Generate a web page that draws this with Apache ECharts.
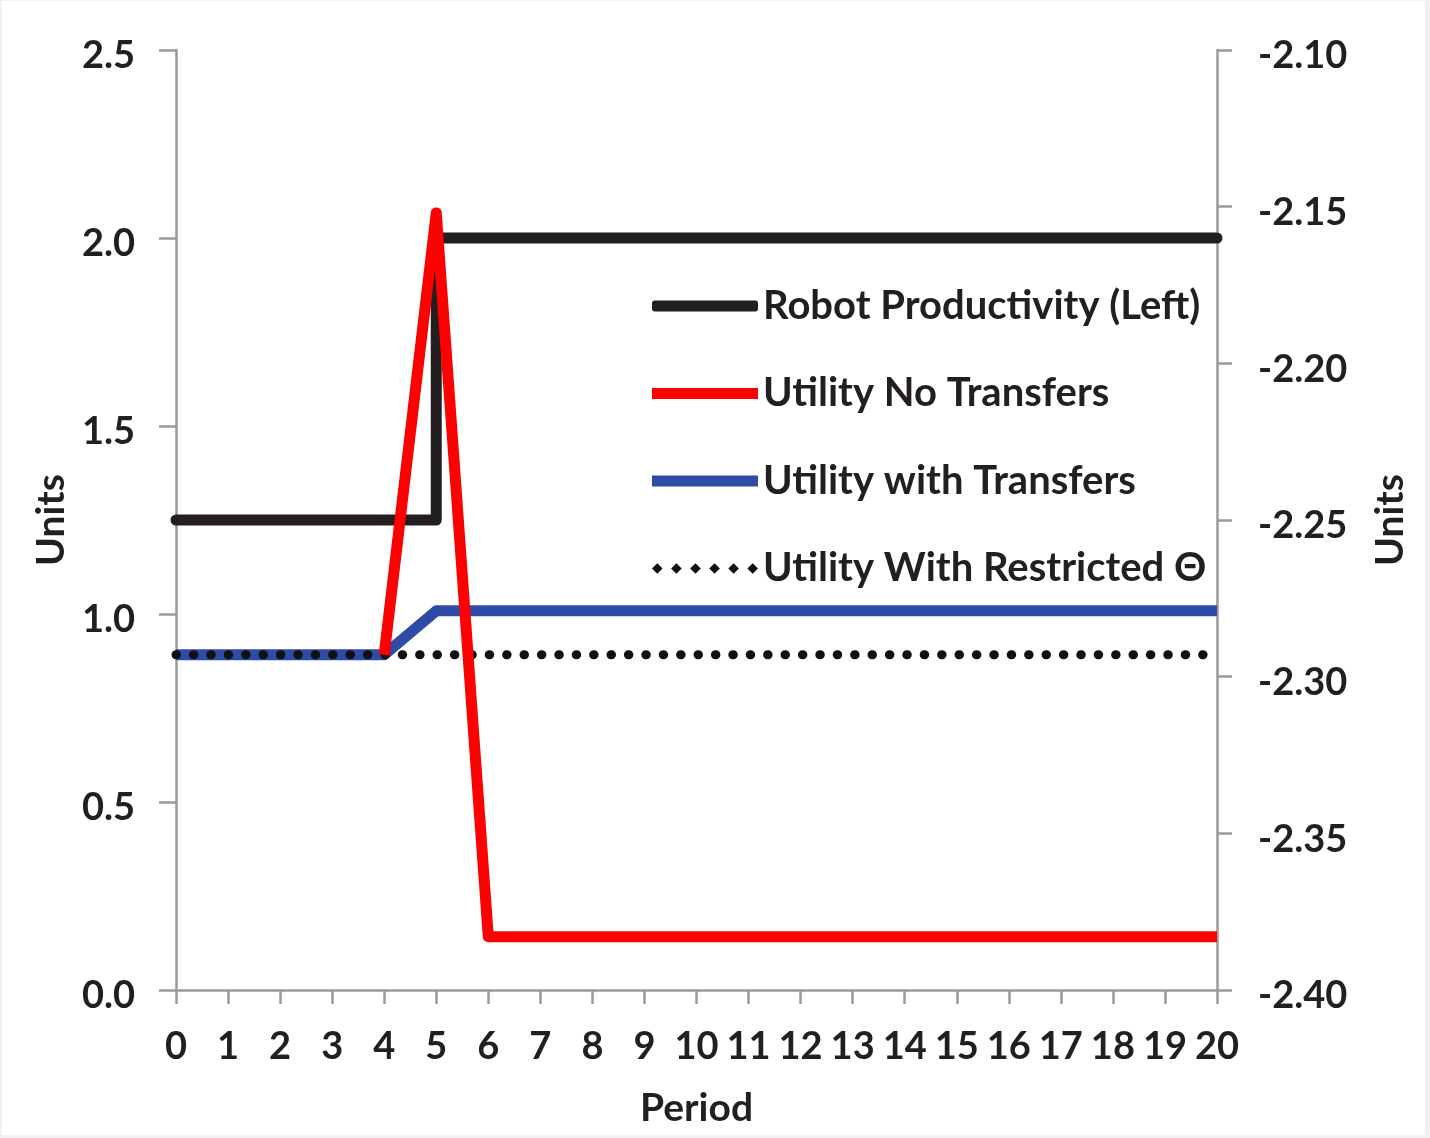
<!DOCTYPE html>
<html>
<head>
<meta charset="utf-8">
<script src="https://cdn.jsdelivr.net/npm/echarts@6/dist/echarts.min.js"></script>
<style>
  html, body { margin: 0; padding: 0; background: #f1f1f1; width: 1430px; height: 1138px; overflow: hidden; }
  #chart { position: absolute; left: 2px; top: 1px; width: 1423px; height: 1134px; background: #ffffff; }
</style>
</head>
<body>
<div id="chart"></div>
<script>
// ---- data ----
const periods = [0,1,2,3,4,5,6,7,8,9,10,11,12,13,14,15,16,17,18,19,20];
const robotProductivity = [1.25,1.25,1.25,1.25,1.25,2.0,2.0,2.0,2.0,2.0,2.0,2.0,2.0,2.0,2.0,2.0,2.0,2.0,2.0,2.0,2.0];
const utilityNoTransfers = [null,null,null,null,-2.293,-2.152,-2.383,-2.383,-2.383,-2.383,-2.383,-2.383,-2.383,-2.383,-2.383,-2.383,-2.383,-2.383,-2.383,-2.383,-2.383];
const utilityWithTransfers = [-2.293,-2.293,-2.293,-2.293,-2.293,-2.279,-2.279,-2.279,-2.279,-2.279,-2.279,-2.279,-2.279,-2.279,-2.279,-2.279,-2.279,-2.279,-2.279,-2.279,-2.279];
const utilityRestricted = [-2.293,-2.293,-2.293,-2.293,-2.293,-2.293,-2.293,-2.293,-2.293,-2.293,-2.293,-2.293,-2.293,-2.293,-2.293,-2.293,-2.293,-2.293,-2.293,-2.293,-2.293];
const seriesNames = ['Robot Productivity (Left)', 'Utility No Transfers', 'Utility with Transfers', 'Utility With Restricted \u0398'];

const pair = (ys) => periods.map((p, i) => [p, ys[i]]);

const FONT = 'Lato';
const TXT = '#231f20';
const AXIS = '#9a9a9a';

// legend icon for the dotted series: a row of small diamonds
const DOTS_ICON = 'path://' + [5, 23, 41, 59, 77, 95].map(c =>
  'M' + (c - 5) + ',5L' + c + ',0L' + (c + 5) + ',5L' + c + ',10Z').join(' ');

const chart = echarts.init(document.getElementById('chart'));
chart.setOption({
  backgroundColor: '#ffffff',
  animation: false,
  grid: { left: 174, right: 208, top: 49, bottom: 145 },
  legend: {
    orient: 'vertical',
    left: 645,
    top: 280,
    itemWidth: 106,
    itemHeight: 11,
    itemGap: 47.5,
    data: [
      { name: seriesNames[0], icon: 'roundRect' },
      { name: seriesNames[1], icon: 'rect' },
      { name: seriesNames[2], icon: 'rect' },
      { name: seriesNames[3], icon: DOTS_ICON }
    ],
    textStyle: { fontFamily: FONT, fontWeight: 'bold', fontSize: 40, color: TXT, lineHeight: 40 }
  },
  xAxis: {
    type: 'value', min: 0, max: 20, interval: 1,
    name: 'Period', nameLocation: 'middle', nameGap: 99,
    nameTextStyle: { fontFamily: FONT, fontWeight: 'bold', fontSize: 39, color: TXT },
    axisLine: { show: true, onZero: false, lineStyle: { color: AXIS, width: 2.5 } },
    axisTick: { show: true, length: 14, lineStyle: { color: AXIS, width: 2.5 } },
    axisLabel: { fontFamily: FONT, fontWeight: 'bold', fontSize: 38, color: TXT, margin: 38 },
    splitLine: { show: false }
  },
  yAxis: [
    {
      type: 'value', min: 0, max: 2.5, interval: 0.5, position: 'left',
      name: 'Units', nameLocation: 'middle', nameGap: 91,
      nameTextStyle: { fontFamily: FONT, fontWeight: 'bold', fontSize: 39, color: TXT },
      axisLine: { show: true, lineStyle: { color: AXIS, width: 2.5 } },
      axisTick: { show: true, length: 17, lineStyle: { color: AXIS, width: 2.5 } },
      axisLabel: { fontFamily: FONT, fontWeight: 'bold', fontSize: 38, color: TXT, margin: 41,
                   verticalAlign: 'top', lineHeight: 12, formatter: v => v.toFixed(1) },
      splitLine: { show: false }
    },
    {
      type: 'value', min: -2.4, max: -2.1, interval: 0.05, position: 'right',
      name: 'Units', nameLocation: 'middle', nameGap: 154, nameRotate: 90,
      nameTextStyle: { fontFamily: FONT, fontWeight: 'bold', fontSize: 39, color: TXT },
      axisLine: { show: true, lineStyle: { color: AXIS, width: 2.5 } },
      axisTick: { show: true, length: 15, lineStyle: { color: AXIS, width: 2.5 } },
      axisLabel: { fontFamily: FONT, fontWeight: 'bold', fontSize: 38, color: TXT, margin: 41,
                   verticalAlign: 'top', lineHeight: 12, formatter: v => v.toFixed(2) },
      splitLine: { show: false }
    }
  ],
  series: [
    {
      name: seriesNames[0], type: 'line', yAxisIndex: 0, step: 'end',
      data: pair(robotProductivity), symbol: 'none',
      itemStyle: { color: '#231f20' },
      lineStyle: { color: '#231f20', width: 11, cap: 'round', join: 'round' }
    },
    {
      name: seriesNames[2], type: 'line', yAxisIndex: 1,
      data: pair(utilityWithTransfers), symbol: 'none',
      itemStyle: { color: '#2f4ba8' },
      lineStyle: { color: '#2f4ba8', width: 11, cap: 'butt', join: 'round' }
    },
    {
      name: seriesNames[3], type: 'line', yAxisIndex: 1,
      data: pair(utilityRestricted), symbol: 'none',
      itemStyle: { color: '#111111' },
      lineStyle: { color: '#111111', width: 9, type: [0.5, 16.9], cap: 'round' }
    },
    {
      name: seriesNames[1], type: 'line', yAxisIndex: 1,
      data: pair(utilityNoTransfers), symbol: 'none',
      itemStyle: { color: '#ff0000' },
      lineStyle: { color: '#ff0000', width: 11, cap: 'butt', join: 'round' }
    }
  ]
});
</script>
</body>
</html>
